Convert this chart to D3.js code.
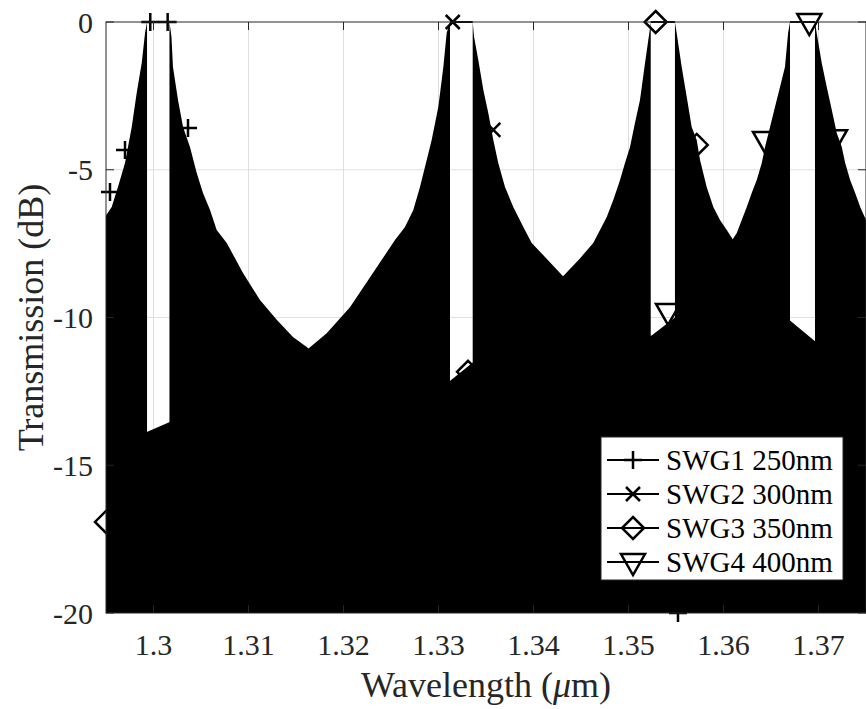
<!DOCTYPE html>
<html>
<head>
<meta charset="utf-8">
<script src="https://cdnjs.cloudflare.com/ajax/libs/d3/7.8.5/d3.min.js"></script>
<style>
  body { margin: 0; background: #fff; }
  text { font-family: "Liberation Serif", "Times New Roman", serif; }
</style>
</head>
<body>
<script>
// tick labels
var xTicks = [1.30, 1.31, 1.32, 1.33, 1.34, 1.35, 1.36, 1.37];
var yTicks = [-20, -15, -10, -5, 0];

// legend names and marker types
var names   = ["SWG1 250nm", "SWG2 300nm", "SWG3 350nm", "SWG4 400nm"];
var symbols = ["plus", "cross", "diamond", "triangle"];

// stop band edges (um), transmission sits at 0 dB in between
var stopbands = [[1.29932, 1.30168], [1.33121, 1.33360], [1.35234, 1.35489], [1.36700, 1.36963]];

// side lobe envelopes [wavelength um, dB]
var leftEnv1 = [[1.29500,-6.55],[1.29560,-6.26],[1.29626,-5.58],[1.29700,-4.77],[1.29771,-3.55],
  [1.29823,-2.40],[1.29876,-1.39],[1.29911,-0.37]];
var rightEnv1 = [[1.30189,-0.5],[1.30205,-1.52],[1.30258,-2.64],[1.30311,-3.55],[1.30384,-4.23],
  [1.30455,-5.11],[1.30521,-5.79],[1.30595,-6.36],[1.30665,-7.04],[1.30771,-7.48],[1.30942,-8.49],
  [1.31121,-9.41],[1.31297,-10.08],[1.31468,-10.66],[1.31613,-11.0],[1.31963,-12.0],[1.32595,-13.0],
  [1.33121,-13.6],[1.34700,-15.0],[1.36000,-16.0],[1.37500,-17.0]];

var leftEnv2 = [[1.29500,-14.6],[1.29911,-13.9],[1.30195,-13.5],[1.31016,-12.4],[1.31613,-11.1],
  [1.31823,-10.53],[1.32068,-9.65],[1.32542,-7.38],[1.32647,-6.94],[1.32735,-6.36],[1.32805,-5.58],
  [1.32876,-4.67],[1.32928,-3.99],[1.32998,-2.88],[1.33051,-1.52],[1.33086,-0.37]];
var rightEnv2 = [[1.33374,-0.5],[1.33419,-1.29],[1.33472,-2.30],[1.33524,-3.08],[1.33577,-3.99],
  [1.33629,-4.77],[1.33700,-5.58],[1.33787,-6.26],[1.33893,-6.94],[1.33981,-7.48],[1.34121,-7.95],
  [1.34311,-8.6],[1.34700,-9.6],[1.35247,-10.9],[1.36000,-11.8],[1.37500,-13.2]];

var leftEnv3 = [[1.29500,-16.9],[1.29911,-15.8],[1.31000,-14.6],[1.32000,-13.4],[1.33100,-12.2],
  [1.33332,-11.6],[1.33647,-10.8],[1.34068,-9.8],[1.34311,-8.6],[1.34489,-8.0],[1.34629,-7.48],
  [1.34700,-7.04],[1.34771,-6.60],[1.34840,-6.02],[1.34911,-5.35],[1.34963,-4.77],[1.35016,-4.23],
  [1.35068,-3.42],[1.35121,-2.64],[1.35174,-1.39],[1.35219,-0.37]];
var rightEnv3 = [[1.35507,-0.37],[1.35560,-1.52],[1.35613,-2.54],[1.35665,-3.55],[1.35718,-3.99],
  [1.35753,-4.67],[1.35823,-5.58],[1.35893,-6.26],[1.35963,-6.70],[1.36034,-7.04],[1.36087,-7.3],
  [1.36384,-8.8],[1.36700,-10.1],[1.36963,-10.8],[1.37500,-11.8]];

var leftEnv4 = [[1.29500,-19.0],[1.31500,-16.5],[1.33100,-13.5],[1.34000,-12.2],[1.35247,-10.6],
  [1.35489,-10.0],[1.35753,-9.0],[1.36087,-7.4],[1.36140,-7.14],[1.36192,-6.70],[1.36245,-6.26],
  [1.36297,-5.79],[1.36350,-5.35],[1.36403,-4.77],[1.36437,-4.23],[1.36490,-3.55],[1.36542,-2.88],
  [1.36595,-2.20],[1.36647,-1.52],[1.36680,-0.37]];
var rightEnv4 = [[1.36981,-0.37],[1.37034,-1.39],[1.37087,-2.20],[1.37140,-2.98],[1.37192,-3.76],
  [1.37245,-4.23],[1.37281,-4.77],[1.37333,-5.35],[1.37386,-5.79],[1.37439,-6.26],[1.37500,-6.70]];

// marker positions [wavelength um, dB]
var markers1 = [[1.29966,0],[1.30149,0],[1.30363,-3.59],[1.29700,-4.33],[1.29542,-5.75],[1.35521,-20]];
var markers2 = [[1.33150,0],[1.33577,-3.65]];
var markers3 = [[1.35286,0],[1.35718,-4.16],[1.29500,-16.92],[1.33311,-11.84]];
var markers4 = [[1.36903,0],[1.36437,-3.99],[1.37174,-3.93],[1.35416,-9.81]];

var leftEnvs  = [leftEnv1, leftEnv2, leftEnv3, leftEnv4];
var rightEnvs = [rightEnv1, rightEnv2, rightEnv3, rightEnv4];
var markerSets = [markers1, markers2, markers3, markers4];

var width = 866, height = 709;
var plot = {left: 106, right: 866, top: 22, bottom: 613};

var svg = d3.select("body").append("svg")
  .attr("width", width)
  .attr("height", height);

var x = d3.scaleLinear().domain([1.295, 1.375]).range([plot.left, plot.right]);
var y = d3.scaleLinear().domain([-20, 0]).range([plot.bottom, plot.top]);

svg.append("defs").append("clipPath").attr("id", "clip")
  .append("rect")
  .attr("x", plot.left).attr("y", plot.top - 1)
  .attr("width", plot.right - plot.left).attr("height", plot.bottom - plot.top + 1);

// grid
var grid = svg.append("g").attr("stroke", "#dfdfdf").attr("stroke-width", 1);
grid.selectAll(".vx").data(xTicks).enter().append("line")
  .attr("x1", d => x(d)).attr("x2", d => x(d))
  .attr("y1", plot.top).attr("y2", plot.bottom);
grid.selectAll(".hy").data(yTicks.filter(d => d > -20 && d < 0)).enter().append("line")
  .attr("x1", plot.left).attr("x2", plot.right)
  .attr("y1", d => y(d)).attr("y2", d => y(d));

// spectra: everything below the side lobe envelope is filled by the fast fringes
var area = d3.area()
  .x(d => x(d[0]))
  .y0(y(-20))
  .y1(d => y(d[1]));
var line = d3.line().x(d => x(d[0])).y(d => y(d[1]));

var data = svg.append("g").attr("clip-path", "url(#clip)");
stopbands.forEach(function(sb, i) {
  var left = leftEnvs[i].concat([[sb[0], 0]]);
  var right = [[sb[1], 0]].concat(rightEnvs[i]);
  data.append("path").attr("d", area(left)).attr("fill", "#000");
  data.append("path").attr("d", area(right)).attr("fill", "#000");
  data.append("path").attr("d", line([[sb[0], 0], [sb[1], 0]]))
    .attr("stroke", "#000").attr("stroke-width", 2).attr("fill", "none");
});

// marker shapes
function markerPath(type) {
  var p = d3.path();
  if (type == "plus") {
    p.moveTo(-9, 0); p.lineTo(9, 0); p.moveTo(0, -9); p.lineTo(0, 9);
  } else if (type == "cross") {
    p.moveTo(-7, -7); p.lineTo(7, 7); p.moveTo(-7, 7); p.lineTo(7, -7);
  } else if (type == "diamond") {
    p.moveTo(0, -11); p.lineTo(11, 0); p.lineTo(0, 11); p.lineTo(-11, 0); p.closePath();
  } else {
    p.moveTo(-12, -8); p.lineTo(12, -8); p.lineTo(0, 13); p.closePath();
  }
  return p.toString();
}

var marks = svg.append("g");
markerSets.forEach(function(set, i) {
  marks.selectAll(".m" + i).data(set).enter().append("path")
    .attr("class", "m" + i)
    .attr("transform", d => "translate(" + x(d[0]) + "," + y(d[1]) + ")")
    .attr("d", markerPath(symbols[i]))
    .attr("fill", "none")
    .attr("stroke", "#000")
    .attr("stroke-width", 2.5);
});

// axes box and inward ticks
var axisColor = "#262626";
var ax = svg.append("g").attr("stroke", axisColor).attr("stroke-width", 1).attr("fill", "none");
ax.append("rect")
  .attr("x", plot.left).attr("y", plot.top)
  .attr("width", plot.right - plot.left).attr("height", plot.bottom - plot.top);
xTicks.forEach(function(t) {
  ax.append("line").attr("x1", x(t)).attr("x2", x(t)).attr("y1", plot.bottom).attr("y2", plot.bottom - 8);
  ax.append("line").attr("x1", x(t)).attr("x2", x(t)).attr("y1", plot.top).attr("y2", plot.top + 8);
});
yTicks.forEach(function(t) {
  ax.append("line").attr("x1", plot.left).attr("x2", plot.left + 8).attr("y1", y(t)).attr("y2", y(t));
  ax.append("line").attr("x1", plot.right).attr("x2", plot.right - 8).attr("y1", y(t)).attr("y2", y(t));
});

// tick labels
svg.append("g").selectAll("text").data(xTicks).enter().append("text")
  .attr("x", d => x(d)).attr("y", 655)
  .attr("text-anchor", "middle")
  .attr("font-size", 30).attr("fill", axisColor)
  .text(d => d3.format("")(+d.toFixed(2)));
svg.append("g").selectAll("text").data(yTicks).enter().append("text")
  .attr("x", 93).attr("y", d => y(d))
  .attr("dy", "0.35em")
  .attr("text-anchor", "end")
  .attr("font-size", 30).attr("fill", axisColor)
  .text(d => d);

// axis titles
var xl = svg.append("text")
  .attr("x", (plot.left + plot.right) / 2).attr("y", 697)
  .attr("text-anchor", "middle")
  .attr("font-size", 36).attr("fill", axisColor);
xl.append("tspan").text("Wavelength (");
xl.append("tspan").attr("font-style", "italic").text("\u03bc");
xl.append("tspan").text("m)");

svg.append("text")
  .attr("transform", "translate(43," + (plot.top + plot.bottom) / 2 + ") rotate(-90)")
  .attr("text-anchor", "middle")
  .attr("font-size", 36).attr("fill", axisColor)
  .text("Transmission (dB)");

// legend
var lg = svg.append("g");
lg.append("rect")
  .attr("x", 601).attr("y", 437).attr("width", 242).attr("height", 143)
  .attr("fill", "#fff").attr("stroke", axisColor).attr("stroke-width", 1);
names.forEach(function(n, i) {
  var ly = 460 + i * 34;
  lg.append("line").attr("x1", 607).attr("x2", 659).attr("y1", ly).attr("y2", ly)
    .attr("stroke", "#000").attr("stroke-width", 2);
  lg.append("path").attr("transform", "translate(633," + ly + ")")
    .attr("d", markerPath(symbols[i]))
    .attr("fill", "none").attr("stroke", "#000").attr("stroke-width", 2.5);
  lg.append("text").attr("x", 666).attr("y", ly + 10)
    .attr("font-size", 29).attr("fill", "#000")
    .text(n);
});
</script>
</body>
</html>
